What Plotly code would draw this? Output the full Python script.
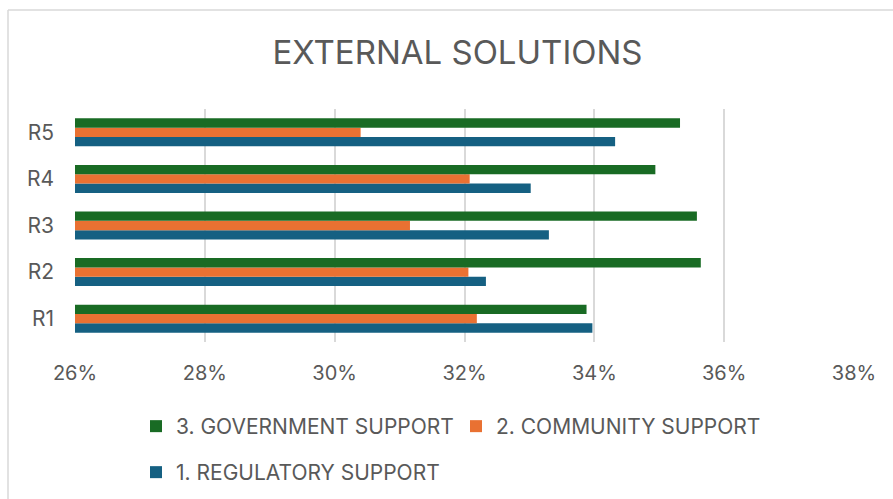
import plotly.graph_objects as go

# Regions and support shares (fractions)
regions = ["R1", "R2", "R3", "R4", "R5"]
regulatory = [0.3397, 0.3233, 0.3330, 0.3302, 0.3432]
community = [0.3219, 0.3206, 0.3116, 0.3208, 0.3040]
government = [0.3388, 0.3564, 0.3558, 0.3494, 0.3532]

series_names = ["1. REGULATORY SUPPORT", "2. COMMUNITY SUPPORT", "3. GOVERNMENT SUPPORT"]
x_ticks = [0.26, 0.28, 0.30, 0.32, 0.34, 0.36, 0.38]

BLUE = "#156082"
ORANGE = "#E97132"
GREEN = "#196B24"
TEXT = "#595959"
GRID = "#D9D9D9"
FONT = "Inter, Roboto, sans-serif"

W, H = 893, 499
ML, MR, MT, MB = 75, 39, 109, 157
PW, PH = W - ML - MR, H - MT - MB


def px_to_paper_x(px):
    return (px - ML) / PW


def px_to_paper_y(py):
    return (H - MB - py) / PH


fig = go.Figure()
fig.add_trace(go.Bar(y=regions, x=regulatory, name=series_names[0], orientation="h",
                     marker=dict(color=BLUE, line=dict(width=0)), legend="legend2"))
fig.add_trace(go.Bar(y=regions, x=community, name=series_names[1], orientation="h",
                     marker=dict(color=ORANGE, line=dict(width=0)), legend="legend"))
fig.add_trace(go.Bar(y=regions, x=government, name=series_names[2], orientation="h",
                     marker=dict(color=GREEN, line=dict(width=0)), legend="legend"))

legend_font = dict(family=FONT, size=21, color=TEXT)

fig.update_layout(
    width=W, height=H,
    margin=dict(l=ML, r=MR, t=MT, b=MB, pad=0, autoexpand=False),
    paper_bgcolor="white", plot_bgcolor="white",
    barmode="group", bargap=0.4, bargroupgap=0,
    font=dict(family=FONT, size=20, color=TEXT),
    title=dict(text="EXTERNAL SOLUTIONS", xref="container", x=457.5 / W, xanchor="center",
               yref="container", y=1 - 52 / H, yanchor="middle",
               font=dict(family=FONT, size=33, color=TEXT)),
    xaxis=dict(range=[0.26, 0.38], tickvals=x_ticks, tickformat=".0%",
               showgrid=True, gridcolor=GRID, gridwidth=1.5,
               zeroline=False, showline=False, ticks="", automargin=False,
               ticklabelstandoff=17,
               tickfont=dict(family=FONT, size=20, color=TEXT)),
    yaxis=dict(showgrid=False, zeroline=False, showline=False, ticks="", automargin=False,
               ticklabelstandoff=20,
               tickfont=dict(family=FONT, size=21, color=TEXT)),
    legend=dict(orientation="h", traceorder="reversed",
                xref="container", x=136 / W, xanchor="left",
                yref="container", y=1 - 406 / H, yanchor="top",
                entrywidth=275, entrywidthmode="pixels",
                itemwidth=30, font=legend_font,
                bgcolor="rgba(0,0,0,0)"),
    legend2=dict(orientation="h",
                 xref="container", x=136 / W, xanchor="left",
                 yref="container", y=1 - 452 / H, yanchor="top",
                 itemwidth=30, font=legend_font,
                 bgcolor="rgba(0,0,0,0)"),
    showlegend=True,
)

# Chart area frame: top and left edges
fig.add_shape(type="line", xref="paper", yref="paper",
              x0=px_to_paper_x(8), x1=px_to_paper_x(W + 5),
              y0=px_to_paper_y(10), y1=px_to_paper_y(10),
              line=dict(color=GRID, width=1.5))
fig.add_shape(type="line", xref="paper", yref="paper",
              x0=px_to_paper_x(8), x1=px_to_paper_x(8),
              y0=px_to_paper_y(10), y1=px_to_paper_y(H + 5),
              line=dict(color=GRID, width=1.5))

fig.write_html("out.html")
